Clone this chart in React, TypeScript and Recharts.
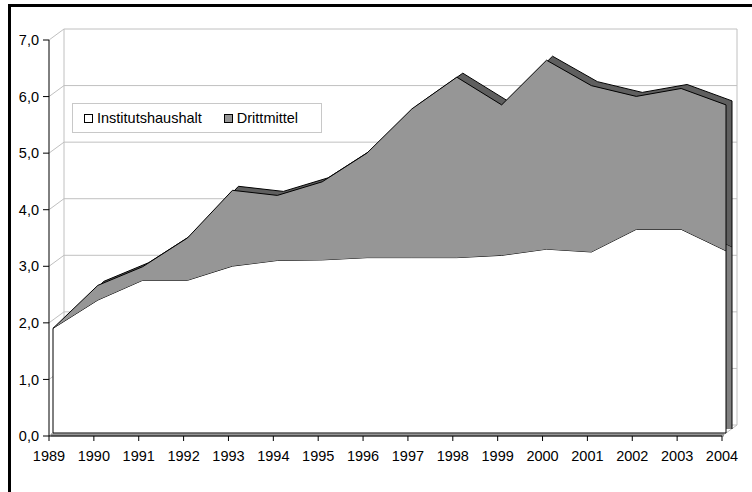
import React from 'react';
import { AreaChart, Area, XAxis, YAxis, CartesianGrid, ReferenceLine } from 'recharts';

// Mio. Euro
const years = ['1989', '1990', '1991', '1992', '1993', '1994', '1995', '1996', '1997', '1998', '1999', '2000', '2001', '2002', '2003', '2004'];
const institutshaushalt = [1.85, 2.35, 2.7, 2.7, 2.95, 3.05, 3.06, 3.1, 3.1, 3.1, 3.14, 3.25, 3.2, 3.6, 3.6, 3.22];
const drittmittel = [0, 0.26, 0.24, 0.75, 1.34, 1.15, 1.38, 1.85, 2.63, 3.19, 2.66, 3.34, 2.94, 2.35, 2.49, 2.58];
const yTicks = [0, 1, 2, 3, 4, 5, 6, 7];
const seriesNames = ['Institutshaushalt', 'Drittmittel'];

const data = years.map((year, i) => ({
  year,
  inst: institutshaushalt[i],
  dritt: drittmittel[i],
}));

const first = data[0];
const last = data[data.length - 1];

const W = 752;
const H = 492;
const MARGIN = { top: 40, right: 30, bottom: 26, left: 9 };
const FONT = '"Liberation Sans", Arial, Helvetica, sans-serif';

// fake 3D: back wall, front face of the areas, thickness of the areas
const WALL = { x: 15, y: -11 };
const FACE = { x: 4, y: -3 };
const SLAB = { x: 6, y: -4 };

const GRID = '#c0c0c0';

const fmt = (v: number) => v.toFixed(1).replace('.', ',');

// diagonal from the front axis to the back wall, drawn in the wall layer
const WallTick = (props: any) => {
  const { x, y } = props;
  return <line x1={x} y1={y} x2={x - WALL.x} y2={y - WALL.y} stroke={GRID} />;
};

const FloorTick = (props: any) => {
  const { x, y, index } = props;
  if (index !== 0 && index !== years.length - 1) return <g />;
  return <line x1={x} y1={y} x2={x - WALL.x} y2={y - WALL.y} stroke={GRID} />;
};

// invisible series so the value axis gets its domain in layers without marks
const ghost = [
  <Area key="g1" type="linear" dataKey="inst" stackId="a" fill="none" stroke="none" dot={false} activeDot={false} isAnimationActive={false} />,
  <Area key="g2" type="linear" dataKey="dritt" stackId="a" fill="none" stroke="none" dot={false} activeDot={false} isAnimationActive={false} />,
];

function Layer({ dx, dy, children, axes = false, floor = false, edge = false }: any) {
  return (
    <div style={{ position: 'absolute', left: dx, top: dy }}>
      <AreaChart width={W} height={H} data={data} margin={MARGIN}>
        <XAxis
          dataKey="year"
          height={30}
          interval={0}
          axisLine={axes ? { stroke: '#000' } : floor ? { stroke: '#969696', strokeWidth: 3 } : edge ? { stroke: '#000' } : false}
          tickLine={axes ? { stroke: '#000' } : false}
          tickSize={axes ? 5 : 0}
          tickMargin={axes ? 10 : 0}
          tick={axes ? { fill: '#000', fontSize: 14.5, fontFamily: FONT } : false}
        />
        <YAxis
          type="number"
          domain={[0, 7]}
          ticks={yTicks}
          width={40}
          interval={0}
          axisLine={axes ? { stroke: '#000' } : false}
          tickLine={axes ? { stroke: '#000' } : false}
          tickSize={axes ? 6 : 0}
          tickMargin={axes ? 4 : 0}
          tickFormatter={fmt}
          tick={axes ? { fill: '#000', fontSize: 14.5, fontFamily: FONT } : false}
        />
        {children || ghost}
      </AreaChart>
    </div>
  );
}

function WallLayer() {
  return (
    <div style={{ position: 'absolute', left: WALL.x, top: WALL.y }}>
      <AreaChart width={W} height={H} data={data} margin={MARGIN}>
        <CartesianGrid vertical={false} stroke={GRID} />
        <XAxis dataKey="year" height={30} interval={0} axisLine={false} tickLine={false} tickSize={0} tickMargin={0} tick={<FloorTick />} />
        <YAxis
          type="number"
          domain={[0, 7]}
          ticks={yTicks}
          width={40}
          interval={0}
          axisLine={false}
          tickLine={false}
          tickSize={0}
          tickMargin={0}
          tick={<WallTick />}
        />
        {ghost}
        <ReferenceLine x={first.year} stroke={GRID} />
        <ReferenceLine x={last.year} stroke={GRID} />
      </AreaChart>
    </div>
  );
}

function LegendBox() {
  const box = (fill: string) => (
    <span style={{ display: 'inline-block', width: 7, height: 7, border: '1px solid #000', background: fill, marginRight: 4 }} />
  );
  return (
    <div
      style={{
        position: 'absolute',
        left: 72,
        top: 103,
        width: 237,
        height: 28,
        border: '1px solid #c8c8c8',
        background: '#fff',
        display: 'flex',
        alignItems: 'center',
        fontFamily: FONT,
        fontSize: 14.5,
        color: '#000',
        paddingLeft: 11,
        boxSizing: 'content-box',
      }}
    >
      {box('#fff')}
      <span>{seriesNames[0]}</span>
      <span style={{ width: 22 }} />
      {box('#969696')}
      <span>{seriesNames[1]}</span>
    </div>
  );
}

export default function App() {
  return (
    <div style={{ position: 'absolute', left: 0, top: 0, width: W, height: H, overflow: 'hidden', background: '#fff' }}>
      <div style={{ position: 'absolute', left: 8, top: 4, width: 800, height: 600, border: '3px solid #000', boxSizing: 'border-box' }} />
      <WallLayer />
      <Layer dx={2} dy={-1.5} floor />
      <Layer dx={FACE.x + SLAB.x} dy={FACE.y + SLAB.y}>
        <Area type="linear" dataKey="inst" stackId="a" fill="#808080" fillOpacity={1} stroke="#000" dot={false} activeDot={false} isAnimationActive={false} />
        <Area type="linear" dataKey="dritt" stackId="a" fill="#5f5f5f" fillOpacity={1} stroke="#000" dot={false} activeDot={false} isAnimationActive={false} />
        <ReferenceLine segment={[{ x: last.year, y: 0 }, { x: last.year, y: last.inst + last.dritt }]} stroke="#000" />
      </Layer>
      <Layer dx={FACE.x} dy={FACE.y} edge>
        <Area type="linear" dataKey="inst" stackId="a" fill="#fff" fillOpacity={1} stroke="#000" dot={false} activeDot={false} isAnimationActive={false} />
        <Area type="linear" dataKey="dritt" stackId="a" fill="#969696" fillOpacity={1} stroke="#000" dot={false} activeDot={false} isAnimationActive={false} />
        <ReferenceLine segment={[{ x: first.year, y: 0 }, { x: first.year, y: first.inst + first.dritt }]} stroke="#000" />
        <ReferenceLine segment={[{ x: last.year, y: 0 }, { x: last.year, y: last.inst + last.dritt }]} stroke="#000" />
      </Layer>
      <Layer dx={0} dy={0} axes />
      <LegendBox />
    </div>
  );
}
